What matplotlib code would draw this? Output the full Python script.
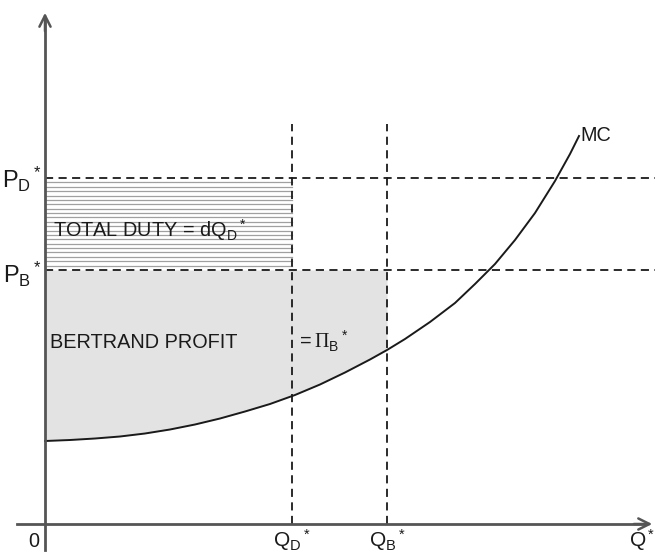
import numpy as np
import matplotlib.pyplot as plt

plt.rcParams['font.family'] = ['Liberation Sans', 'DejaVu Sans']
plt.rcParams['mathtext.fontset'] = 'custom'
plt.rcParams['mathtext.rm'] = 'Liberation Sans'
plt.rcParams['mathtext.it'] = 'Liberation Sans'
plt.rcParams['mathtext.sf'] = 'Liberation Serif'

# quantities / prices (diagram units, origin at the axes' corner)
q_d = 247
q_b = 342
p_d = 346
p_b = 254

# marginal cost curve
mc_x = np.array([0, 25, 50, 75, 100, 125, 150, 175, 200, 225, 250, 275, 300,
                 325, 342, 360, 385, 410, 430, 450, 470, 490, 510, 525, 534])
mc_y = np.array([83, 84, 85.5, 87.5, 90.5, 94.5, 99.5, 105.5, 112.5, 120, 129,
                 139.5, 151.5, 164.5, 174, 185, 202, 221, 240, 260, 284, 311,
                 343, 370, 388])

ink = '#1a1a1a'
axis_col = '#555555'

fig = plt.figure(figsize=(6.57, 5.52), dpi=100)
ax = fig.add_axes([0, 0, 1, 1])
ax.set_xlim(-45, 612)
ax.set_ylim(-28, 524)
ax.axis('off')

# bertrand profit area
m = mc_x <= q_b
ax.fill_between(mc_x[m], mc_y[m], p_b, color='#e3e3e3', lw=0, zorder=1)

# total duty hatching
for y in np.linspace(p_b, p_d, 22)[1:-1]:
    ax.plot([0, q_d], [y, y], color='#a0a0a0', lw=0.9, zorder=2)

# dashed guides
dash = dict(color=ink, lw=1.3, ls=(0, (4.5, 3)), zorder=3)
ax.plot([0, 610], [p_d, p_d], **dash)
ax.plot([0, 610], [p_b, p_b], **dash)
ax.plot([q_d, q_d], [0, 400], **dash)
ax.plot([q_b, q_b], [0, 400], **dash)

# MC curve
ax.plot(mc_x, mc_y, color=ink, lw=1.4, zorder=4)

# axes with arrows
ax.plot([0, 0], [-26, 505], color=axis_col, lw=2, zorder=5)
ax.plot([-28, 600], [0, 0], color=axis_col, lw=2, zorder=5)
ax.annotate('', xy=(0, 514), xytext=(0, 490),
            arrowprops=dict(arrowstyle='->', color=axis_col, lw=1.8, mutation_scale=20))
ax.annotate('', xy=(610, 0), xytext=(586, 0),
            arrowprops=dict(arrowstyle='->', color=axis_col, lw=1.8, mutation_scale=20))

fs = 14.3
ax.text(-3, p_d - 10, r'$\mathrm{P_D{}^*}$', fontsize=17, color=ink, ha='right', va='baseline')
ax.text(-3, p_b - 13, r'$\mathrm{P_B{}^*}$', fontsize=17, color=ink, ha='right', va='baseline')
ax.text(-11, -23, '0', fontsize=fs, color=ink, ha='center', va='baseline')
ax.text(q_d, -23, r'$\mathrm{Q_D{}^*}$', fontsize=15, color=ink, ha='center', va='baseline')
ax.text(q_b, -23, r'$\mathrm{Q_B{}^*}$', fontsize=15, color=ink, ha='center', va='baseline')
ax.text(597, -23, r'$\mathrm{Q^*}$', fontsize=15, color=ink, ha='center', va='baseline')
ax.text(535, 383, 'MC', fontsize=fs, color=ink, ha='left', va='baseline')
ax.text(8, 287, r'TOTAL DUTY = dQ$\mathrm{_D{}^*}$', fontsize=fs, color=ink, ha='left', va='baseline')
ax.text(5, 176, 'BERTRAND PROFIT', fontsize=fs, color=ink, ha='left', va='baseline')
ax.text(251, 176, r'$\mathrm{=}\mathsf{\Pi}\mathrm{_B{}^*}$', fontsize=fs, color=ink, ha='left', va='baseline')

fig.savefig('out.png', dpi=100)
